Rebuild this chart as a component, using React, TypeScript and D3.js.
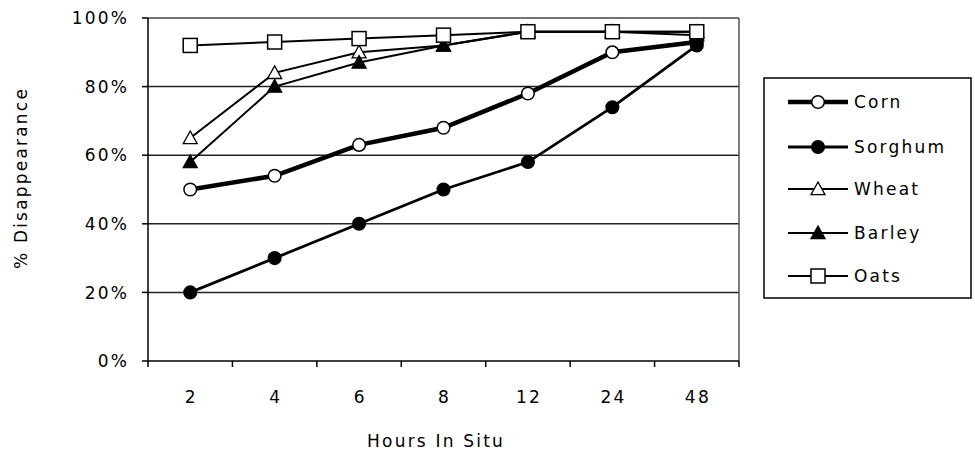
import React from "react";
import * as d3 from "d3";

const categories = ["2", "4", "6", "8", "12", "24", "48"];
const seriesNames = ["Corn", "Sorghum", "Wheat", "Barley", "Oats"];
const corn = [50, 54, 63, 68, 78, 90, 93];
const sorghum = [20, 30, 40, 50, 58, 74, 92];
const wheat = [65, 84, 90, 92, 96, 96, 96];
const barley = [58, 80, 87, 92, 96, 96, 95];
const oats = [92, 93, 94, 95, 96, 96, 96];
const yTicks = [0, 20, 40, 60, 80, 100];

const W = 975, H = 453;
const L = 148, R = 739, T = 18, B = 361;

type Marker = "circleOpen" | "circleFilled" | "triOpen" | "triFilled" | "squareOpen";
const styles: { values: number[]; marker: Marker; width: number }[] = [
  { values: corn, marker: "circleOpen", width: 4.5 },
  { values: sorghum, marker: "circleFilled", width: 2.8 },
  { values: wheat, marker: "triOpen", width: 2 },
  { values: barley, marker: "triFilled", width: 2 },
  { values: oats, marker: "squareOpen", width: 2 },
];

function MarkerShape({ kind, x, y }: { kind: Marker; x: number; y: number }) {
  const filled = kind === "circleFilled" || kind === "triFilled";
  const fill = filled ? "#000" : "#fff";
  if (kind === "circleOpen" || kind === "circleFilled") {
    return <circle cx={x} cy={y} r={6.3} fill={fill} stroke="#000" strokeWidth={1.5} />;
  }
  if (kind === "triOpen" || kind === "triFilled") {
    const s = 7;
    return (
      <path
        d={`M${x},${y - s} L${x + s},${y + s * 0.8} L${x - s},${y + s * 0.8} Z`}
        fill={fill}
        stroke="#000"
        strokeWidth={1.3}
      />
    );
  }
  return <rect x={x - 7} y={y - 7} width={14} height={14} fill="#fff" stroke="#000" strokeWidth={1.5} />;
}

export default function App() {
  const x = d3.scaleBand<string>().domain(categories).range([L, R]);
  const y = d3.scaleLinear().domain([0, 100]).range([B, T]);
  const cx = (c: string) => (x(c) as number) + x.bandwidth() / 2;
  const line = d3
    .line<number>()
    .x((_, i) => cx(categories[i]))
    .y((d) => y(d));
  const font = "'DejaVu Sans', sans-serif";
  const fs = 17;
  const ls = 2.2;
  const tickEdges = [...categories.map((c) => x(c) as number), R];
  const legendY = [102, 147, 189, 233, 276];

  return (
    <svg
      width={W}
      height={H}
      style={{ position: "absolute", left: 0, top: 0, background: "#fff" }}
      fontFamily={font}
      fontSize={fs}
      letterSpacing={ls}
    >
      <rect x={0} y={0} width={W} height={H} fill="#fff" />
      {/* gridlines */}
      {yTicks.filter((t) => t > 0 && t < 100).map((t) => (
        <line key={t} x1={L} x2={R} y1={y(t)} y2={y(t)} stroke="#222" strokeWidth={1.5} />
      ))}
      {/* plot border */}
      <line x1={L} x2={R} y1={T} y2={T} stroke="#444" strokeWidth={1.5} />
      <line x1={R} x2={R} y1={T} y2={B} stroke="#555" strokeWidth={1.5} />
      {/* axes */}
      <line x1={L} x2={L} y1={T} y2={B} stroke="#000" strokeWidth={1.5} />
      <line x1={L} x2={R} y1={B} y2={B} stroke="#000" strokeWidth={1.5} />
      {yTicks.map((t) => (
        <g key={t}>
          <line x1={L - 6} x2={L} y1={y(t)} y2={y(t)} stroke="#000" strokeWidth={1.5} />
          <text x={127 + ls} y={y(t)} dy="0.36em" textAnchor="end" fill="#000">
            {t}%
          </text>
        </g>
      ))}
      {tickEdges.map((e, i) => (
        <line key={i} x1={e} x2={e} y1={B} y2={B + 6} stroke="#000" strokeWidth={1.5} />
      ))}
      {categories.map((c) => (
        <text key={c} x={cx(c) + ls / 2} y={403} textAnchor="middle" fill="#000">
          {c}
        </text>
      ))}
      <text x={435 + ls / 2} y={447} textAnchor="middle" fill="#000">
        Hours In Situ
      </text>
      <text
        transform={`translate(27,178) rotate(-90)`}
        textAnchor="middle"
        fill="#000"
      >
        % Disappearance
      </text>
      {/* series */}
      {styles.map((s, si) => (
        <path key={si} d={line(s.values) || ""} fill="none" stroke="#000" strokeWidth={s.width} />
      ))}
      {styles.map((s, si) =>
        s.values.map((v, i) => (
          <MarkerShape key={`${si}-${i}`} kind={s.marker} x={cx(categories[i])} y={y(v)} />
        ))
      )}
      {/* legend */}
      <rect x={764} y={78} width={207} height={220} fill="#fff" stroke="#000" strokeWidth={1.5} />
      {seriesNames.map((n, i) => (
        <g key={n}>
          <line x1={788} x2={848} y1={legendY[i]} y2={legendY[i]} stroke="#000" strokeWidth={styles[i].width} />
          <MarkerShape kind={styles[i].marker} x={818} y={legendY[i]} />
          <text x={854} y={legendY[i]} dy="0.36em" fill="#000">
            {n}
          </text>
        </g>
      ))}
    </svg>
  );
}
